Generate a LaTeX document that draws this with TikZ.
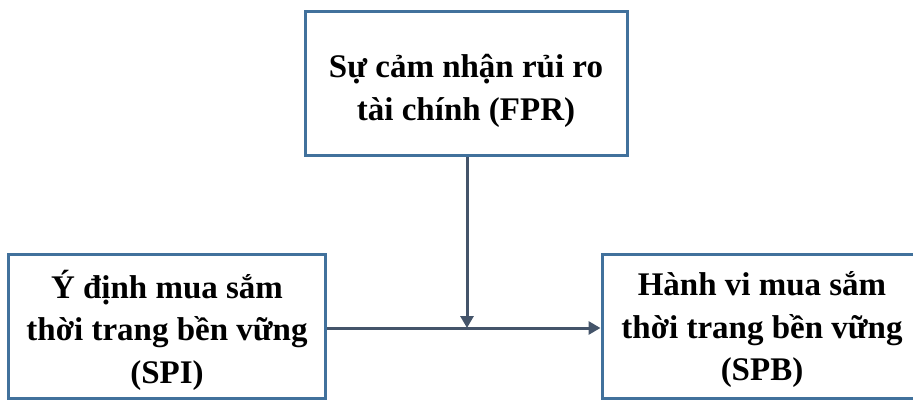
\documentclass[tikz,border=0pt]{standalone}
\usepackage{fontspec}
\setmainfont{Liberation Serif}
\usetikzlibrary{arrows.meta}
\definecolor{boxblue}{HTML}{41719C}
\definecolor{linegray}{HTML}{44546A}
\tikzset{
  boxnode/.style={draw=boxblue, line width=3pt, fill=white, inner sep=0pt},
  boxtext/.style={align=center, font=\fontsize{33}{42.5}\selectfont\bfseries, inner sep=0pt},
  conn/.style={draw=linegray, line width=3pt, -{Triangle[length=12pt,width=13pt]}}
}
\begin{document}
\begin{tikzpicture}[x=1pt,y=-1pt]
\useasboundingbox (0,0) rectangle (913,401);
\clip (0,0) rectangle (913,401);
\node[boxnode, minimum width=322pt, minimum height=144pt] (fpr) at (466,84) {};
\node[boxtext] (fprt) at (466,91) {Sự cảm nhận rủi ro\\tài chính (FPR)};
\node[boxnode, minimum width=317pt, minimum height=144pt] (spi) at (167,326) {};
\node[boxtext] (spit) at (167,330) {Ý định mua sắm\\thời trang bền vững\\(SPI)};
\node[boxnode, minimum width=320pt, minimum height=144pt] (spb) at (762,326) {};
\node[boxtext] (spbt) at (762,330) {Hành vi mua sắm\\thời trang bền vững\\(SPB)};
\coordinate (m) at (467,328);
\draw[conn] (spi.east |- m) -- (spb.west |- m);
\draw[conn] (fpr.south -| m) -- (m);
\end{tikzpicture}
\end{document}
